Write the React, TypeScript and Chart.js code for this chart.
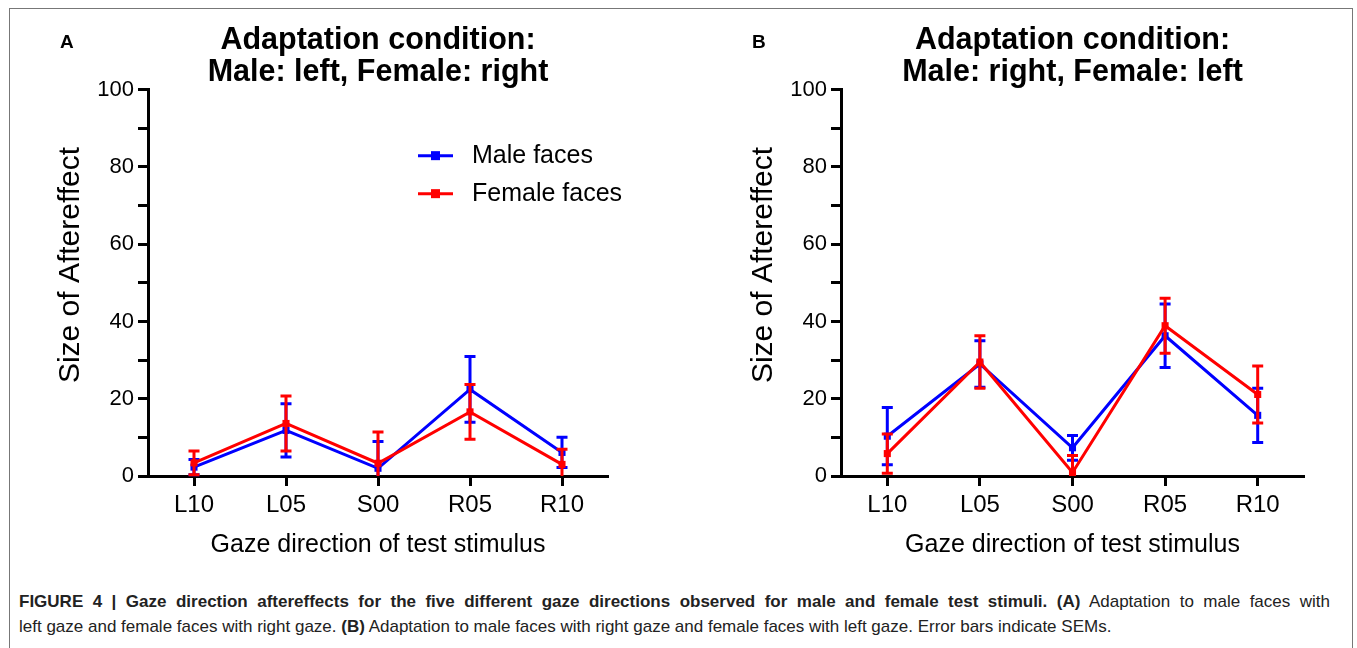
import React, { useEffect, useRef } from "react";
import { Chart, registerables } from "chart.js";

Chart.register(...registerables);

// ---------- data ----------
const categories = ["L10", "L05", "S00", "R05", "R10"];
const seriesNames = ["Male faces", "Female faces"];
const seriesColors = ["#0000FF", "#FF0000"];

const aMale = [2.3, 11.8, 2.0, 22.4, 6.1];
const aMaleSem = [2.0, 6.9, 6.9, 8.5, 3.9];
const aFemale = [3.4, 13.6, 3.3, 16.6, 3.0];
const aFemaleSem = [3.1, 7.1, 8.1, 7.1, 3.9];

const bMale = [10.3, 29.0, 7.3, 36.3, 15.7];
const bMaleSem = [7.4, 6.0, 3.2, 8.2, 7.0];
const bFemale = [5.8, 29.5, 0.9, 38.9, 21.1];
const bFemaleSem = [5.1, 6.8, 4.4, 7.1, 7.4];

const yTickLabels = [0, 20, 40, 60, 80, 100];
const titleA = ["Adaptation condition:", "Male: left, Female: right"];
const titleB = ["Adaptation condition:", "Male: right, Female: left"];
const yTitle = "Size of Aftereffect";
const xTitle = "Gaze direction of test stimulus";

const FONT = "'Liberation Sans', Arial, Helvetica, sans-serif";

// ---------- plugins ----------
const errorBarPlugin = {
  id: "errorBars",
  afterDatasetDraw(chart: any, args: any) {
    const ds: any = chart.data.datasets[args.index];
    if (!ds.sem) return;
    const meta = args.meta;
    const y = chart.scales.y;
    const ctx = chart.ctx;
    ctx.save();
    ctx.strokeStyle = ds.borderColor;
    ctx.lineWidth = 3;
    ctx.lineCap = "butt";
    const capHalf = 5.5;
    meta.data.forEach((pt: any, i: number) => {
      const v = ds.data[i];
      const s = ds.sem[i];
      const yTop = y.getPixelForValue(v + s);
      const rawLow = v - s;
      const yBot = y.getPixelForValue(Math.max(0, rawLow));
      ctx.beginPath();
      ctx.moveTo(pt.x, yTop);
      ctx.lineTo(pt.x, yBot);
      ctx.moveTo(pt.x - capHalf, yTop);
      ctx.lineTo(pt.x + capHalf, yTop);
      if (rawLow >= 0) {
        ctx.moveTo(pt.x - capHalf, yBot);
        ctx.lineTo(pt.x + capHalf, yBot);
      }
      ctx.stroke();
    });
    ctx.restore();
  },
};

const innerLegendPlugin = {
  id: "innerLegend",
  afterDraw(chart: any, _args: any, opts: any) {
    if (!opts || !opts.show) return;
    const ctx = chart.ctx;
    const ca = chart.chartArea;
    ctx.save();
    chart.data.datasets.forEach((ds: any, i: number) => {
      const yy = ca.top + opts.top + i * opts.rowGap;
      const x0 = ca.left + opts.lineStart;
      const x1 = x0 + opts.lineLen;
      ctx.strokeStyle = ds.borderColor;
      ctx.lineWidth = 3;
      ctx.beginPath();
      ctx.moveTo(x0, yy);
      ctx.lineTo(x1, yy);
      ctx.stroke();
      ctx.fillStyle = ds.borderColor;
      ctx.fillRect((x0 + x1) / 2 - 4.5, yy - 4.5, 9, 9);
      ctx.fillStyle = "#000";
      ctx.font = `${opts.fontSize}px ${FONT}`;
      ctx.textBaseline = "middle";
      ctx.textAlign = "left";
      ctx.fillText(ds.label, ca.left + opts.textStart, yy);
    });
    ctx.restore();
  },
};

// y-axis title, placed like the original (centred a little above the plot centre)
const yTitlePlugin = {
  id: "yTitleFree",
  afterDraw(chart: any, _args: any, opts: any) {
    if (!opts || !opts.text) return;
    const ctx = chart.ctx;
    ctx.save();
    ctx.translate(opts.x, opts.y);
    ctx.rotate(-Math.PI / 2);
    ctx.font = `${opts.fontSize}px ${FONT}`;
    ctx.fillStyle = "#000";
    ctx.textAlign = "center";
    ctx.textBaseline = "middle";
    ctx.fillText(opts.text, 0, 0);
    ctx.restore();
  },
};

function makeConfig(
  title: string[],
  male: number[],
  maleSem: number[],
  female: number[],
  femaleSem: number[],
  rightPad: number,
  showLegend: boolean
): any {
  return {
    type: "line",
    data: {
      labels: categories,
      datasets: [
        {
          label: seriesNames[0],
          data: male,
          sem: maleSem,
          borderColor: seriesColors[0],
          backgroundColor: seriesColors[0],
          borderWidth: 3,
          pointStyle: "rect",
          pointRadius: 5,
          pointBorderWidth: 0,
          tension: 0,
          clip: false,
          order: 1,
        },
        {
          label: seriesNames[1],
          data: female,
          sem: femaleSem,
          borderColor: seriesColors[1],
          backgroundColor: seriesColors[1],
          borderWidth: 3,
          pointStyle: "rect",
          pointRadius: 5,
          pointBorderWidth: 0,
          tension: 0,
          clip: false,
          order: 0,
        },
      ],
    },
    plugins: [errorBarPlugin, innerLegendPlugin, yTitlePlugin],
    options: {
      animation: false,
      responsive: false,
      maintainAspectRatio: false,
      devicePixelRatio: 1,
      events: [],
      layout: { padding: { left: 0, right: rightPad, top: 0, bottom: 0 } },
      plugins: {
        legend: { display: false },
        tooltip: { enabled: false },
        title: {
          display: true,
          text: title,
          fullSize: false,
          color: "#000",
          font: { family: FONT, size: 30.5, weight: "bold", lineHeight: 1.06 },
          padding: { top: 24, bottom: 1 },
        },
        innerLegend: {
          show: showLegend,
          top: 66,
          rowGap: 38,
          lineStart: 270,
          lineLen: 35,
          textStart: 324,
          fontSize: 25,
        },
        yTitleFree: {
          text: yTitle,
          x: 71,
          y: 265,
          fontSize: 30,
        },
      },
      scales: {
        x: {
          type: "category",
          offset: true,
          grid: {
            display: true,
            drawOnChartArea: false,
            drawTicks: true,
            tickLength: 10,
            tickWidth: 3,
            tickColor: "#000",
            offset: false,
          },
          border: { display: true, width: 3, color: "#000" },
          ticks: {
            color: "#000",
            font: { family: FONT, size: 24 },
            padding: 5,
            autoSkip: false,
            maxRotation: 0,
          },
          title: {
            display: true,
            text: xTitle,
            color: "#000",
            font: { family: FONT, size: 25 },
            padding: { top: 0, bottom: 15 },
          },
          afterFit: (s: any) => {
            s.height = 99;
          },
        },
        y: {
          min: 0,
          max: 100,
          grid: {
            display: true,
            drawOnChartArea: false,
            drawTicks: true,
            tickLength: 10,
            tickWidth: 3,
            tickColor: "#000",
          },
          border: { display: true, width: 3, color: "#000" },
          ticks: {
            stepSize: 10,
            autoSkip: false,
            color: "#000",
            font: { family: FONT, size: 22 },
            padding: 4,
            callback: (v: any) => (yTickLabels.includes(Number(v)) ? String(v) : ""),
          },
          title: { display: false },
          afterFit: (s: any) => {
            s.width = 148;
          },
        },
      },
    },
  };
}

function Panel(props: {
  left: number;
  width: number;
  height: number;
  config: any;
}) {
  const ref = useRef<HTMLCanvasElement | null>(null);
  useEffect(() => {
    if (!ref.current) return;
    const chart = new Chart(ref.current, props.config);
    return () => chart.destroy();
  }, []);
  return (
    <canvas
      ref={ref}
      width={props.width}
      height={props.height}
      style={{
        position: "absolute",
        left: props.left,
        top: 0,
        width: props.width,
        height: props.height,
      }}
    />
  );
}

export default function App() {
  const cfgA = makeConfig(titleA, aMale, aMaleSem, aFemale, aFemaleSem, 72, true);
  const cfgB = makeConfig(titleB, bMale, bMaleSem, bFemale, bFemaleSem, 53, false);
  const capStyle: any = {
    position: "absolute",
    left: 19,
    fontFamily: FONT,
    fontSize: 17,
    lineHeight: "25px",
    color: "#222",
  };
  return (
    <div
      style={{
        position: "fixed",
        left: 0,
        top: 0,
        width: 1357,
        height: 648,
        background: "#fff",
        overflow: "hidden",
      }}
    >
      <div
        style={{
          position: "absolute",
          left: 9,
          top: 8,
          width: 1342,
          height: 700,
          border: "1px solid #777",
        }}
      />
      <Panel left={0} width={680} height={575} config={cfgA} />
      <Panel left={693} width={664} height={575} config={cfgB} />
      <div
        style={{
          position: "absolute",
          left: 60,
          top: 32,
          fontFamily: FONT,
          fontWeight: "bold",
          fontSize: 19,
          lineHeight: "19px",
        }}
      >
        A
      </div>
      <div
        style={{
          position: "absolute",
          left: 752,
          top: 32,
          fontFamily: FONT,
          fontWeight: "bold",
          fontSize: 19,
          lineHeight: "19px",
        }}
      >
        B
      </div>
      <div
        style={{
          ...capStyle,
          top: 589,
          width: 1311,
          textAlign: "justify",
          textAlignLast: "justify",
          whiteSpace: "normal",
        }}
      >
        <b>
          FIGURE 4 | Gaze direction aftereffects for the five different gaze
          directions observed for male and female test stimuli. (A)
        </b>{" "}
        Adaptation to male faces with
      </div>
      <div style={{ ...capStyle, top: 614, whiteSpace: "nowrap" }}>
        left gaze and female faces with right gaze. <b>(B)</b> Adaptation to
        male faces with right gaze and female faces with left gaze. Error bars
        indicate SEMs.
      </div>
    </div>
  );
}
